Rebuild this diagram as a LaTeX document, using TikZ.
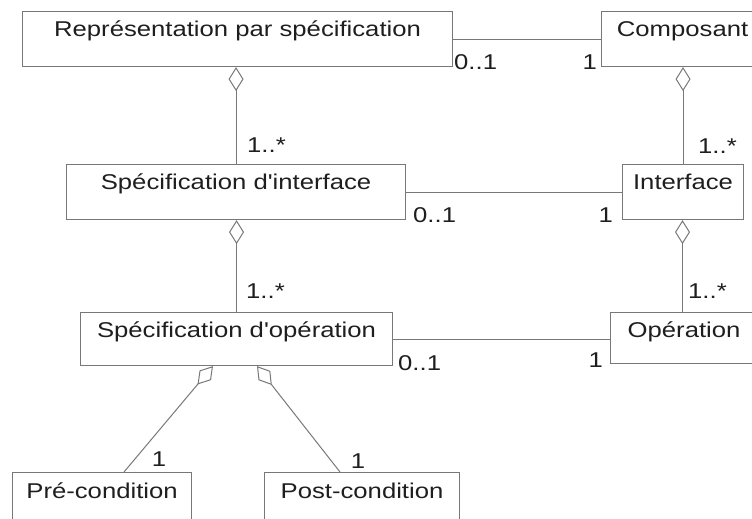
\documentclass[tikz,border=0pt]{standalone}
\usepackage{fontspec}
\newfontfamily\umlfam{Liberation Sans}[FakeStretch=1.2]
\usetikzlibrary{arrows.meta,calc}
\definecolor{edge}{RGB}{120,120,120}
\definecolor{ink}{RGB}{30,30,30}
\newcommand{\umlfont}{\umlfam\fontsize{21.4}{25}\selectfont}
\tikzset{
  cls/.style={draw=edge, line width=1.1pt, rectangle, inner xsep=0pt, inner ysep=0pt,
    text=ink, font=\umlfont, anchor=north west, text height=25pt},
  mult/.style={inner sep=0pt, text=ink, font=\umlfont},
  assoc/.style={draw=edge, line width=1pt},
  aggr/.style={assoc, -{Diamond[open, length=24pt, width=15pt, line width=1pt]}},
}
\begin{document}
\begin{tikzpicture}[x=1pt, y=-1pt]
  \useasboundingbox (0,0) rectangle (752,519);
  \clip (0,0) rectangle (752,519);

  % classes
  \node[cls, minimum width=430pt, text depth=30pt] (rep) at (22,11) {Représentation par spécification};
  \node[cls, minimum width=162pt, text depth=30pt] (comp) at (601,11) {Composant};
  \node[cls, minimum width=339pt, text depth=30pt] (ispec) at (66,164) {Spécification d'interface};
  \node[cls, minimum width=121pt, text depth=30pt] (iface) at (622,164) {Interface};
  \node[cls, minimum width=312pt, text depth=28pt] (ospec) at (80,312) {Spécification d'opération};
  \node[cls, minimum width=147pt, text depth=26pt] (oper) at (610,312) {Opération};
  \node[cls, minimum width=179pt, text depth=40pt, text height=26pt] (pre) at (12,472) {Pré-condition};
  \node[cls, minimum width=195pt, text depth=40pt, text height=26pt] (post) at (264,472) {Post-condition};

  % associations
  \draw[assoc] (rep.east) -- (rep.east -| comp.west);
  \draw[assoc] (ispec.east) -- (ispec.east -| iface.west);
  \draw[assoc] ($(ospec.east)+(0,0.5)$) -- ($(ospec.east -| oper.west)+(0,0.5)$);

  % aggregations
  \draw[aggr] (ispec.north) -- (ispec.north |- rep.south);
  \draw[aggr] (ospec.north) -- (ospec.north |- ispec.south);
  \draw[aggr] (iface.north) -- (iface.north |- comp.south);
  \draw[aggr] ($(oper.north west)+(72.5,0)$) -- ($(iface.south west)+(60.5,0)$);
  \draw[aggr] ($(pre.north west)+(112,0)$) -- ($(ospec.south west)+(133,0)$);
  \draw[aggr] ($(post.north west)+(76,0)$) -- ($(ospec.south west)+(177,0)$);

  % multiplicities
  \node[mult, anchor=west] (m1) at (454,62) {0..1};
  \node[mult, anchor=east] (m2) at (597,62) {1};
  \node[mult, anchor=west] (m3) at (247,145) {1..*};
  \node[mult, anchor=west] (m4) at (698,146) {1..*};
  \node[mult, anchor=west] (m5) at (413,215) {0..1};
  \node[mult, anchor=east] (m6) at (613,215) {1};
  \node[mult, anchor=west] (m7) at (246,291) {1..*};
  \node[mult, anchor=west] (m8) at (688,291) {1..*};
  \node[mult, anchor=west] (m9) at (398,363) {0..1};
  \node[mult, anchor=east] (m10) at (603,360) {1};
  \node[mult] (m11) at (159,459) {1};
  \node[mult] (m12) at (358,461) {1};
\end{tikzpicture}
\end{document}
